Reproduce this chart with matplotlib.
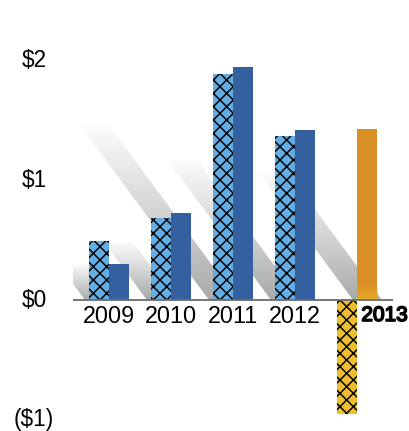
import numpy as np
import matplotlib
matplotlib.use("Agg")
import matplotlib.pyplot as plt
from matplotlib import font_manager
from matplotlib import patheffects
from matplotlib.patches import Polygon
from matplotlib.colors import LinearSegmentedColormap, to_rgb

# ---- data ----
years = ["2009", "2010", "2011", "2012", "2013"]
series_a = [0.49, 0.69, 1.89, 1.37, -0.95]   # hatched bars
series_b = [0.30, 0.73, 1.95, 1.42, 1.43]    # solid bars
y_ticks = [-1, 0, 1, 2]
y_tick_labels = ["($1)", "$0", "$1", "$2"]
highlight_year = "2013"

# ---- style ----
names = {f.name for f in font_manager.fontManager.ttflist}
FONT = "Liberation Sans Narrow" if "Liberation Sans Narrow" in names else "Liberation Sans"
plt.rcParams["font.family"] = [FONT, "DejaVu Sans"]
plt.rcParams["hatch.linewidth"] = 0.9

LIGHT_BLUE = "#62aee4"
DARK_BLUE = "#3560a0"
ORANGE = "#da8f25"
ORANGE_FOOT = "#e8b02c"
YELLOW = "#edbe2e"
BASELINE = "#6e6e6e"
SHADOW_FRAC = [0.60, 0.70, 0.77, 0.85, 0.74]

DPI = 120
W, H = 409, 431
fig = plt.figure(figsize=(W / DPI, H / DPI), dpi=DPI)
ax = fig.add_axes([73 / W, 0, 320 / W, 1])

bw = 0.323
x = np.arange(len(years))
colors_a = [LIGHT_BLUE] * 4 + [YELLOW]
colors_b = [DARK_BLUE] * 4 + [ORANGE]

# diagonal fading shadows behind each group
shadow_cmap = LinearSegmentedColormap.from_list("shade", ["#a9abab", "#fcfcfc"])
slope = 1.42
grad = np.linspace(0, 1, 256).reshape(-1, 1)
for i in range(len(years)):
    cast_left = x[i] - bw if series_a[i] > 0 else x[i]
    cast_val = series_a[i] if series_a[i] > 0 else series_b[i]
    h = SHADOW_FRAC[i] * cast_val
    x0 = cast_left - 0.065
    x1 = cast_left + 0.40
    dx = slope * h
    verts = [(x0, 0), (x1, 0), (x1 - dx, h), (x0 - dx, h)]
    poly = Polygon(verts, closed=True, facecolor="none", edgecolor="none",
                   transform=ax.transData)
    ax.add_patch(poly)
    im = ax.imshow(grad, extent=[x0 - dx, x1, 0, h], origin="lower",
                   cmap=shadow_cmap, aspect="auto", zorder=1,
                   interpolation="bilinear")
    im.set_clip_path(poly)

ax.bar(x - bw / 2, series_a, width=bw, color=colors_a, edgecolor="black",
       linewidth=0, hatch="xxx", zorder=2)
bars_b = ax.bar(x + bw / 2, series_b, width=bw, color=colors_b, linewidth=0, zorder=2)

# warm glow at the foot of the highlighted bar
hi = years.index(highlight_year)
foot = np.zeros((64, 1, 4))
foot[..., :3] = to_rgb(ORANGE_FOOT)
foot[:, 0, 3] = np.linspace(0.9, 0.0, 64)
bar = bars_b[hi]
im = ax.imshow(foot, extent=[bar.get_x(), bar.get_x() + bar.get_width(), 0, 0.13],
               origin="lower", aspect="auto", zorder=2.5, interpolation="bilinear")
im.set_clip_path(bar)

ax.axhline(0, color=BASELINE, lw=1.1, zorder=3)

# category labels under the baseline; the highlighted year is set heavier
heavy = [patheffects.withStroke(linewidth=1.0, foreground="black")]
for i, yr in enumerate(years):
    if yr == highlight_year:
        ax.annotate(yr, xy=(x[i], 0), xytext=(2.6, -3.6), textcoords="offset points",
                    ha="left", va="top", fontsize=12.5, color="black",
                    path_effects=heavy)
    else:
        ax.annotate(yr, xy=(x[i], 0), xytext=(0, -3.2), textcoords="offset points",
                    ha="center", va="top", fontsize=14)

ax.set_yticks(y_ticks, labels=y_tick_labels)
ax.tick_params(axis="y", length=0, pad=23.4, labelsize=13.5)
for lbl in ax.get_yticklabels():
    lbl.set_horizontalalignment("center")
    lbl.set_verticalalignment("center")
ax.set_xticks([])
for s in ax.spines.values():
    s.set_visible(False)
ax.patch.set_alpha(0)

ax.set_xlim(-0.58, 4.58)
ax.set_ylim(-1.096, 2.51)

fig.savefig("out.png", dpi=DPI)
